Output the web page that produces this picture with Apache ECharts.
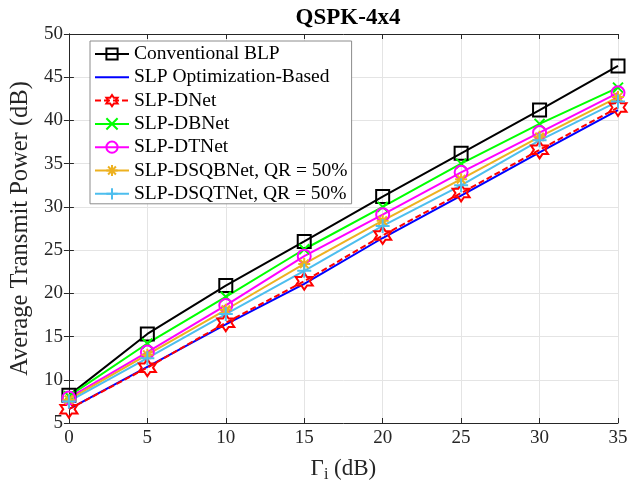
<!DOCTYPE html>
<html>
<head>
<meta charset="utf-8">
<script src="https://cdn.jsdelivr.net/npm/echarts@6/dist/echarts.min.js"></script>
<style>
  html, body { margin: 0; padding: 0; background: #fff; }
  #main { width: 643px; height: 488px; }
</style>
</head>
<body>
<div id="main"></div>
<script>
// 数据: x 轴 (Gamma_i, dB) 和各方法的平均发射功率 (dB)
var gammaDb = [0, 5, 10, 15, 20, 25, 30, 35];
var conventionalBLP = [8.2, 15.3, 20.9, 26.0, 31.2, 36.2, 41.2, 46.3];
var slpOptBased    = [6.6, 11.5, 16.4, 21.1, 26.4, 31.3, 36.3, 41.2];
var slpDNet        = [6.6, 11.4, 16.6, 21.4, 26.7, 31.6, 36.6, 41.5];
var slpDBNet       = [8.1, 14.2, 19.6, 25.1, 30.0, 35.0, 39.6, 43.8];
var slpDTNet       = [7.9, 13.2, 18.6, 24.3, 29.1, 34.0, 38.6, 43.2];
var slpDSQBNet     = [7.7, 12.9, 18.1, 23.4, 28.4, 33.2, 38.1, 42.7];
var slpDSQTNet     = [7.5, 12.5, 17.6, 22.6, 27.8, 32.5, 37.7, 42.2];
var yTicks = [5, 10, 15, 20, 25, 30, 35, 40, 45, 50];

var FONT = "'Liberation Serif', 'Times New Roman', serif";
var TXT = '#262626';

// 六角星 (MATLAB 'h' marker)
function hexagramPath() {
    var s = 'path://';
    for (var i = 0; i < 12; i++) {
        var r = (i % 2) ? 57.7 : 100;
        var a = (-90 + i * 30) * Math.PI / 180;
        s += (i == 0 ? 'M' : 'L') + (r * Math.cos(a)).toFixed(1) + ',' + (r * Math.sin(a)).toFixed(1);
    }
    return s + 'Z';
}
var xMark = 'path://M0,0L10,10M0,10L10,0';
var plusMark = 'path://M0,5L10,5M5,0L5,10';
var starMark = 'path://M0,5L10,5M5,0L5,10M1.5,1.5L8.5,8.5M1.5,8.5L8.5,1.5';

function pairs(ys) {
    return gammaDb.map(function (x, i) { return [x, ys[i]]; });
}

function mkSeries(name, ys, color, symbol, size, dashed) {
    return {
        name: name,
        type: 'line',
        data: pairs(ys),
        symbol: symbol,
        symbolSize: size,
        clip: false,
        lineStyle: { color: color, width: 2, type: dashed ? [6, 3] : 'solid' },
        itemStyle: { color: 'rgba(0,0,0,0)', borderColor: color, borderWidth: 2 },
        emphasis: { disabled: true }
    };
}

var legendNames = ['Conventional BLP', 'SLP Optimization-Based', 'SLP-DNet', 'SLP-DBNet',
                   'SLP-DTNet', 'SLP-DSQBNet, QR = 50%', 'SLP-DSQTNet, QR = 50%'];

var myChart = echarts.init(document.getElementById('main'));
myChart.setOption({
    animation: false,
    backgroundColor: '#fff',
    title: {
        text: 'QSPK-4x4',
        left: 343,
        textAlign: 'center',
        top: 2,
        textStyle: { fontFamily: FONT, fontSize: 23, fontWeight: 'bold', color: '#000' }
    },
    grid: { left: 68, right: 25, top: 34, bottom: 65, containLabel: false },
    legend: {
        orient: 'vertical',
        left: 90,
        top: 41,
        padding: [3, 4, 0, 4],
        itemWidth: 34,
        itemHeight: 14,
        itemGap: 3.3,
        backgroundColor: '#fff',
        borderColor: '#8c8c8c',
        borderWidth: 1,
        textStyle: { fontFamily: FONT, fontSize: 19.5, lineHeight: 20, color: '#000' },
        data: legendNames.map(function (n) {
            // 蓝线没有标记
            return n == 'SLP Optimization-Based' ? { name: n, itemStyle: { opacity: 0 } } : { name: n };
        })
    },
    xAxis: [{
        type: 'value', min: 0, max: 35, interval: 5,
        name: '\u0393{sub|i} (dB)',
        nameLocation: 'middle',
        nameGap: 32,
        nameTextStyle: {
            fontFamily: FONT, fontSize: 23, color: TXT,
            rich: { sub: { fontFamily: FONT, fontSize: 16, color: TXT, verticalAlign: 'bottom', padding: [12, 0, 0, 0] } }
        },
        axisLine: { show: true, lineStyle: { color: TXT, width: 1 } },
        axisTick: { show: true, inside: true, length: 5, lineStyle: { color: TXT } },
        axisLabel: { fontFamily: FONT, fontSize: 19, color: TXT, margin: 6 },
        splitLine: { show: true, lineStyle: { color: '#e4e4e4', width: 1 } }
    }, {
        type: 'value', min: 0, max: 35, interval: 5, position: 'top',
        axisLine: { show: true, lineStyle: { color: TXT, width: 1 } },
        axisTick: { show: true, inside: true, length: 5, lineStyle: { color: TXT } },
        axisLabel: { show: false },
        splitLine: { show: false }
    }],
    yAxis: [{
        type: 'value', min: yTicks[0], max: yTicks[yTicks.length - 1], interval: 5,
        name: 'Average Transmit Power (dB)',
        nameLocation: 'middle',
        nameGap: 34,
        nameTextStyle: { fontFamily: FONT, fontSize: 24.5, color: TXT },
        axisLine: { show: true, lineStyle: { color: TXT, width: 1 } },
        axisTick: { show: true, inside: true, length: 5, lineStyle: { color: TXT } },
        axisLabel: { fontFamily: FONT, fontSize: 19, color: TXT, margin: 6 },
        splitLine: { show: true, lineStyle: { color: '#e4e4e4', width: 1 } }
    }, {
        type: 'value', min: yTicks[0], max: yTicks[yTicks.length - 1], interval: 5, position: 'right',
        axisLine: { show: true, lineStyle: { color: TXT, width: 1 } },
        axisTick: { show: true, inside: true, length: 5, lineStyle: { color: TXT } },
        axisLabel: { show: false },
        splitLine: { show: false }
    }],
    series: [
        mkSeries('Conventional BLP', conventionalBLP, '#000000', 'rect', 13),
        mkSeries('SLP Optimization-Based', slpOptBased, '#0000ff', 'none', 1),
        mkSeries('SLP-DNet', slpDNet, '#ff0000', hexagramPath(), 17, true),
        mkSeries('SLP-DBNet', slpDBNet, '#00ff00', xMark, 10),
        mkSeries('SLP-DTNet', slpDTNet, '#ff00ff', 'circle', 13),
        mkSeries('SLP-DSQBNet, QR = 50%', slpDSQBNet, '#edb120', starMark, 12),
        mkSeries('SLP-DSQTNet, QR = 50%', slpDSQTNet, '#4dbeee', plusMark, 14)
    ]
});
</script>
</body>
</html>
